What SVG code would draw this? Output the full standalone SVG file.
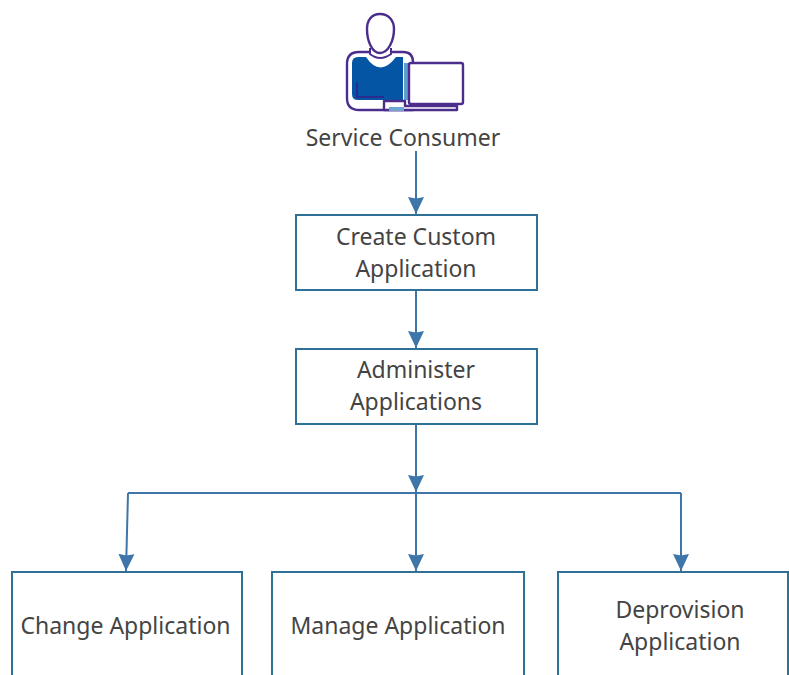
<svg xmlns="http://www.w3.org/2000/svg" width="789" height="675" viewBox="0 0 789 675">
<style>
.box{fill:#fff;stroke:#2f7196;stroke-width:2}
.lbl{font-family:"Noto Sans","DejaVu Sans",sans-serif;font-size:23px;fill:#444;text-anchor:middle}
.c{fill:none;stroke:#3f76aa;stroke-width:2}
.ico{stroke:#4b2e8c;stroke-width:2.4;stroke-linejoin:round}
</style>
<defs><marker id="a" markerUnits="userSpaceOnUse" markerWidth="17" markerHeight="18" refX="17" refY="9" orient="auto" viewBox="0 0 17 18"><path d="M0 1L1.5 9L0 17L17 9Z" fill="#3f76aa"/></marker></defs>
<rect width="789" height="675" fill="#fff"/>
<g id="connectors">
<path class="c" d="M416 151V214" marker-end="url(#a)"/>
<path class="c" d="M416 291V348" marker-end="url(#a)"/>
<path class="c" d="M416 424V493V571" marker-end="url(#a)"/>
<path class="c" d="M416 424V492" marker-end="url(#a)"/>
<path class="c" d="M128 493H681"/>
<path class="c" d="M128 493L126 571" marker-end="url(#a)"/>
<path class="c" d="M681 493V571" marker-end="url(#a)"/>
</g>
<g id="service-consumer">
<path class="ico" fill="#fff" d="M347 64Q347 52 359 52H403Q413 52 413 62V110H359Q347 110 347 98Z"/>
<path d="M352 63Q352 57 358 57H403V100H358Q352 100 352 94Z" fill="#0456a4"/>
<path d="M357 83V97H384" fill="none" stroke="#2a2a90" stroke-width="2"/>
<path d="M366 57Q380 78 396 57Z" fill="#fff"/>
<path d="M370 48V54Q380 62 391 54V48" fill="#fff" stroke="#4b2e8c" stroke-width="2"/>
<path class="ico" fill="#fff" d="M380 14C371 14 367 21 367 29C367 41 372 53 380 53C388 53 394 41 394 29C394 21 389 14 380 14Z"/>
<path d="M404 63H409V100H404Z" fill="#5f9ecf"/>
<rect class="ico" x="409" y="63" width="54" height="41" rx="2" fill="#fff"/>
<path class="ico" fill="#fff" d="M384 110V101H405V106H457V110Z"/>
<rect x="389" y="107" width="15" height="4" fill="#6fa6d2"/>
<text class="lbl" x="403" y="146">Service Consumer</text>
</g>
<g id="create-custom-application">
<rect class="box" x="296" y="215" width="241" height="75"/>
<text class="lbl" x="416" y="245">Create Custom</text>
<text class="lbl" x="416" y="277">Application</text>
</g>
<g id="administer-applications">
<rect class="box" x="296" y="349" width="241" height="75"/>
<text class="lbl" x="416" y="378">Administer</text>
<text class="lbl" x="416" y="410">Applications</text>
</g>
<g id="change-application">
<rect class="box" x="12" y="572" width="230" height="120"/>
<text class="lbl" x="125.500" y="634">Change Application</text>
</g>
<g id="manage-application">
<rect class="box" x="272" y="572" width="252" height="120"/>
<text class="lbl" x="398" y="634">Manage Application</text>
</g>
<g id="deprovision-application">
<rect class="box" x="558" y="572" width="230" height="120"/>
<text class="lbl" x="680" y="618">Deprovision</text>
<text class="lbl" x="680" y="650">Application</text>
</g>
</svg>
